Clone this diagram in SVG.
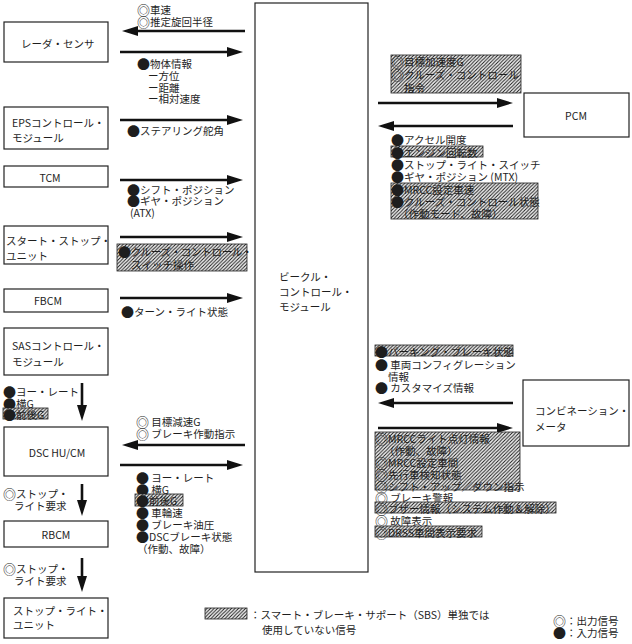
<svg xmlns="http://www.w3.org/2000/svg" width="632" height="644" viewBox="0 0 632 644">
<defs>
<pattern id="hatch" patternUnits="userSpaceOnUse" width="3.5" height="3.5">
<rect width="3.5" height="3.5" fill="#f4f4f4"/>
<path d="M-1,1 L1,-1 M0,3.5 L3.5,0 M2.5,4.5 L4.5,2.5" stroke="#1a1a1a" stroke-width="1"/>
</pattern>
<marker id="ah" viewBox="0 0 16 10" refX="2" refY="5" markerWidth="16" markerHeight="10" markerUnits="userSpaceOnUse" orient="auto">
<path d="M0,0 L16,5 L0,10 z" fill="#111"/>
</marker>
<style>
text{font-family:"Noto Sans CJK JP","Noto Sans",sans-serif;font-size:10.5px;fill:#1e1e1e;dominant-baseline:central}
.s{font-size:13px}
.box{fill:#fff;stroke:#222;stroke-width:1.2}
.h{fill:url(#hatch);stroke:#222;stroke-width:0.8}
.c{text-anchor:middle}
.ar{stroke:#111;stroke-width:2.6;fill:none;marker-end:url(#ah)}
</style>
</defs>
<rect width="632" height="644" fill="#fff"/>

<g id="vcm"><rect class="box" x="255" y="3" width="113" height="569"/>
<text x="279" y="276">ビークル・</text><text x="279" y="291">コントロール・</text><text x="279" y="306">モジュール</text></g>

<g id="radar"><rect class="box" x="4" y="22" width="104" height="40"/><text x="21" y="43">レーダ・センサ</text></g>
<g id="eps"><rect class="box" x="4" y="107" width="104" height="42"/><text x="12" y="122">EPSコントロール・</text><text x="12" y="137">モジュール</text></g>
<g id="tcm"><rect class="box" x="4" y="166" width="104" height="21"/><text class="c" x="50" y="177">TCM</text></g>
<g id="ssu"><rect class="box" x="4" y="226" width="104" height="38"/><text x="6" y="240">スタート・ストップ・</text><text x="6" y="255">ユニット</text></g>
<g id="fbcm"><rect class="box" x="4" y="289" width="104" height="23"/><text class="c" x="48" y="300">FBCM</text></g>
<g id="sas"><rect class="box" x="4" y="328" width="104" height="47"/><text x="12" y="345">SASコントロール・</text><text x="12" y="361">モジュール</text></g>
<g id="dsc"><rect class="box" x="4" y="427" width="104" height="49"/><text class="c" x="57" y="452">DSC HU/CM</text></g>
<g id="rbcm"><rect class="box" x="4" y="521" width="104" height="26"/><text class="c" x="56" y="534">RBCM</text></g>
<g id="slu"><rect class="box" x="4" y="598" width="104" height="40"/><text x="13" y="610">ストップ・ライト・</text><text x="13" y="624">ユニット</text></g>
<g id="pcm"><rect class="box" x="524" y="93" width="105" height="44"/><text class="c" x="576" y="115">PCM</text></g>
<g id="meter"><rect class="box" x="523" y="380" width="106" height="66"/><text x="535" y="410">コンビネーション・</text><text x="535" y="426">メータ</text></g>

<g id="connectors">
<path class="ar" d="M245,31 H136"/>
<path class="ar" d="M120,52 H229"/>
<path class="ar" d="M120,120 H229"/>
<path class="ar" d="M120,180 H229"/>
<path class="ar" d="M120,237 H229"/>
<path class="ar" d="M120,298 H229"/>
<path class="ar" d="M245,445 H136"/>
<path class="ar" d="M120,465 H229"/>
<path class="ar" d="M82,383 V407"/>
<path class="ar" d="M82,484 V502"/>
<path class="ar" d="M82,558 V578"/>
<path class="ar" d="M378,103 H499"/>
<path class="ar" d="M513,126 H392"/>
<path class="ar" d="M513,403 H392"/>
<path class="ar" d="M378,428 H499"/>
</g>

<g id="labels-left">
<text x="137" y="9"><tspan class="s">◎</tspan>車速</text>
<text x="137" y="21"><tspan class="s">◎</tspan>推定旋回半径</text>
<text x="137" y="63"><tspan class="s">●</tspan>物体情報</text>
<text x="148" y="75">ー方位</text>
<text x="148" y="87">ー距離</text>
<text x="148" y="98">ー相対速度</text>
<text x="127" y="130"><tspan class="s">●</tspan>ステアリング舵角</text>
<text x="127" y="189"><tspan class="s">●</tspan>シフト・ポジション</text>
<text x="127" y="200"><tspan class="s">●</tspan>ギヤ・ポジション</text>
<text x="130" y="212">(ATX)</text>
<rect class="h" x="117" y="244" width="130" height="27"/>
<text x="118" y="251" letter-spacing="-0.3"><tspan class="s">●</tspan>クルーズ・コントロール・</text>
<text x="131" y="264">スイッチ操作</text>
<text x="121" y="311"><tspan class="s">●</tspan>ターン・ライト状態</text>
<text x="3" y="391"><tspan class="s">●</tspan>ヨー・レート</text>
<text x="3" y="403"><tspan class="s">●</tspan>横G</text>
<rect class="h" x="3" y="408" width="45" height="11"/>
<text x="3" y="414"><tspan class="s">●</tspan>前後G</text>
<text x="136" y="421"><tspan class="s">◎</tspan> 目標減速G</text>
<text x="136" y="433"><tspan class="s">◎</tspan> ブレーキ作動指示</text>
<text x="136" y="477"><tspan class="s">●</tspan> ヨー・レート</text>
<text x="136" y="489"><tspan class="s">●</tspan> 横G</text>
<rect class="h" x="135" y="494" width="48" height="12"/>
<text x="136" y="500"><tspan class="s">●</tspan>前後G</text>
<text x="136" y="512"><tspan class="s">●</tspan> 車輪速</text>
<text x="136" y="524"><tspan class="s">●</tspan> ブレーキ油圧</text>
<text x="136" y="536"><tspan class="s">●</tspan>DSCブレーキ状態</text>
<text x="137" y="548">（作動、故障）</text>
<text x="3" y="493"><tspan class="s">◎</tspan>ストップ・</text>
<text x="14" y="505">ライト要求</text>
<text x="3" y="568"><tspan class="s">◎</tspan>ストップ・</text>
<text x="14" y="580">ライト要求</text>
</g>

<g id="labels-right">
<rect class="h" x="391" y="55" width="130" height="38"/>
<text x="391" y="61"><tspan class="s">◎</tspan>目標加速度G</text>
<text x="391" y="74"><tspan class="s">◎</tspan>クルーズ・コントロール</text>
<text x="404" y="87">指令</text>
<text x="391" y="139"><tspan class="s">●</tspan>アクセル開度</text>
<rect class="h" x="391" y="146" width="92" height="11"/>
<text x="391" y="152"><tspan class="s">●</tspan>エンジン回転数</text>
<text x="391" y="164"><tspan class="s">●</tspan>ストップ・ライト・スイッチ</text>
<text x="391" y="176"><tspan class="s">●</tspan>ギヤ・ポジション (MTX)</text>
<rect class="h" x="391" y="183" width="147" height="36"/>
<text x="391" y="189"><tspan class="s">●</tspan>MRCC設定車速</text>
<text x="391" y="201"><tspan class="s">●</tspan>クルーズ・コントロール状態</text>
<text x="398" y="213">（作動モード、故障）</text>
<rect class="h" x="375" y="345" width="138" height="11"/>
<text x="375" y="351"><tspan class="s">●</tspan>パーキング・ブレーキ状態</text>
<text x="375" y="364"><tspan class="s">●</tspan> 車両コンフィグレーション</text>
<text x="388" y="376">情報</text>
<text x="375" y="387"><tspan class="s">●</tspan> カスタマイズ情報</text>
<rect class="h" x="375" y="432" width="145" height="58"/>
<text x="375" y="438"><tspan class="s">◎</tspan>MRCCライト点灯情報</text>
<text x="384" y="450">（作動、故障）</text>
<text x="375" y="462"><tspan class="s">◎</tspan>MRCC設定車間</text>
<text x="375" y="474"><tspan class="s">◎</tspan>先行車検知状態</text>
<text x="375" y="486"><tspan class="s">◎</tspan>シフト・アップ／ダウン指示</text>
<text x="375" y="497"><tspan class="s">◎</tspan> ブレーキ警報</text>
<rect class="h" x="375" y="502" width="181" height="11"/>
<text x="375" y="508"><tspan class="s">◎</tspan>ブザー情報（システム作動＆解除）</text>
<text x="375" y="520"><tspan class="s">◎</tspan> 故障表示</text>
<rect class="h" x="375" y="526" width="107" height="11"/>
<text x="375" y="532"><tspan class="s">◎</tspan>DRSS車間表示要求</text>
</g>

<g id="legend">
<rect class="h" x="205" y="608" width="42" height="11"/>
<text x="250" y="614">：スマート・ブレーキ・サポート（SBS）単独では</text>
<text x="262" y="629">使用していない信号</text>
<text x="553" y="620"><tspan class="s">◎</tspan>：出力信号</text>
<text x="553" y="632"><tspan class="s">●</tspan>：入力信号</text>
</g>
</svg>
